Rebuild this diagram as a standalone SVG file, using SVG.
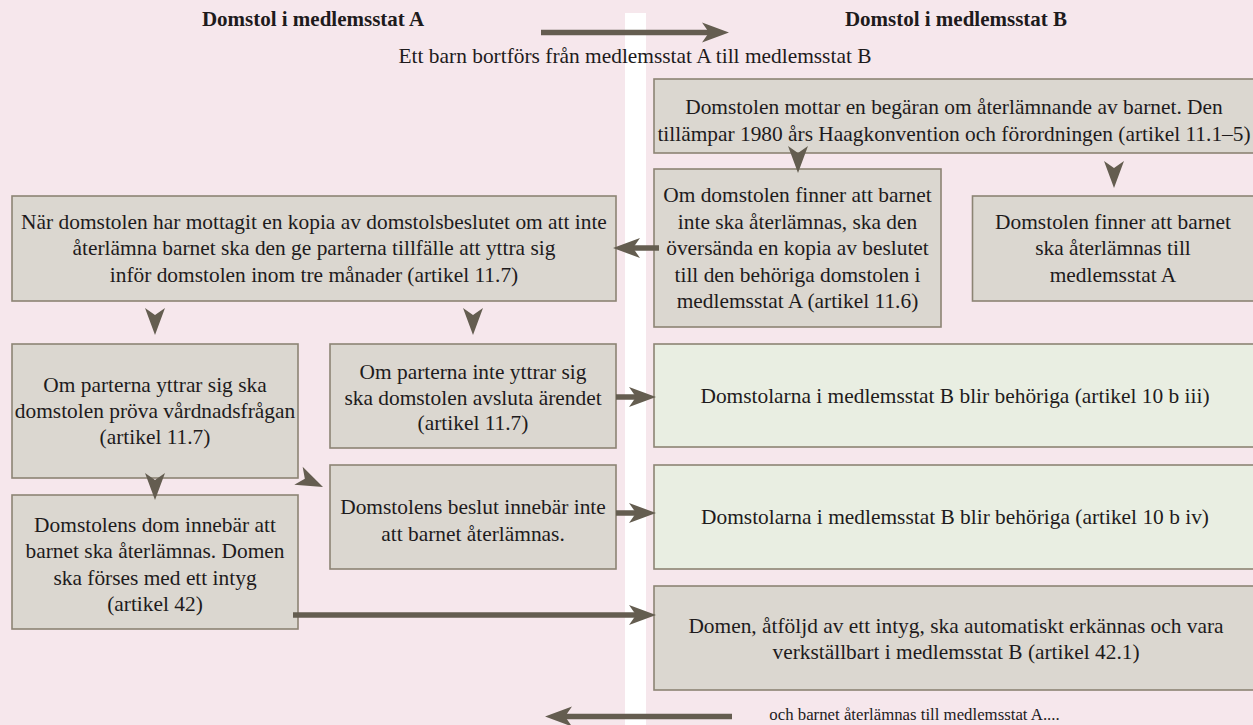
<svg xmlns="http://www.w3.org/2000/svg" xmlns:xlink="http://www.w3.org/1999/xlink" width="1253" height="725" viewBox="0 0 1253 725">
<style>
.bx{fill:#DBD7D0;stroke:#8C8474;stroke-width:1.6}
.gr{fill:#E9EEE2;stroke:#8C8474;stroke-width:1.6}
.t{font-family:"Liberation Serif","Times New Roman",serif;font-size:21.4px;fill:#1E1B1C;text-anchor:middle}
.s{font-family:"Liberation Serif","Times New Roman",serif;font-size:16.8px;fill:#1E1B1C;text-anchor:middle}
.h{font-family:"Liberation Serif","Times New Roman",serif;font-size:21px;font-weight:bold;fill:#1E1B1C;text-anchor:middle}
.ln{stroke:#645D50;stroke-width:5.5;fill:none;marker-end:url(#ah)}
.hd{fill:#645D50}
</style>
<defs>
<marker id="ah" markerUnits="userSpaceOnUse" markerWidth="28" markerHeight="21" refX="7" refY="10" orient="auto" overflow="visible">
<path d="M0,0 L27,10 L0,20 L7,10 Z" fill="#645D50"/>
</marker>
<path id="head" d="M0,0 L-27,-10 L-20,0 L-27,10 Z"/>
</defs>
<rect x="0" y="0" width="1253" height="725" fill="#F6E7EC"/>
<rect x="625" y="13" width="21" height="712" fill="#FFFFFF"/>

<g id="titles">
<text class="h" x="313" y="26">Domstol i medlemsstat A</text>
<text class="h" x="956" y="26">Domstol i medlemsstat B</text>
<text class="t" x="635" y="63">Ett barn bortförs från medlemsstat A till medlemsstat B</text>
<text class="s" x="914.5" y="720">och barnet återlämnas till medlemsstat A....</text>
</g>

<g id="n_b1">
<rect class="bx" x="654" y="79" width="603" height="74"/>
<text class="t" x="954" y="114">Domstolen mottar en begäran om återlämnande av barnet. Den</text>
<text class="t" x="954" y="141">tillämpar 1980 års Haagkonvention och förordningen (artikel 11.1–5)</text>
</g>

<g id="n_b2">
<rect class="bx" x="654" y="169" width="287" height="158"/>
<text class="t" x="797.5" y="202">Om domstolen finner att barnet</text>
<text class="t" x="797.5" y="228.5">inte ska återlämnas, ska den</text>
<text class="t" x="797.5" y="255">översända en kopia av beslutet</text>
<text class="t" x="797.5" y="281.5">till den behöriga domstolen i</text>
<text class="t" x="797.5" y="308">medlemsstat A (artikel 11.6)</text>
</g>

<g id="n_b3">
<rect class="bx" x="972.5" y="196" width="284" height="105"/>
<text class="t" x="1113" y="228.5">Domstolen finner att barnet</text>
<text class="t" x="1113" y="255">ska återlämnas till</text>
<text class="t" x="1113" y="281.5">medlemsstat A</text>
</g>

<g id="n_a1">
<rect class="bx" x="12" y="196" width="604" height="105"/>
<text class="t" x="314" y="228.5">När domstolen har mottagit en kopia av domstolsbeslutet om att inte</text>
<text class="t" x="314" y="255">återlämna barnet ska den ge parterna tillfälle att yttra sig</text>
<text class="t" x="314" y="281.5">inför domstolen inom tre månader (artikel 11.7)</text>
</g>

<g id="n_a2">
<rect class="bx" x="12" y="344" width="286" height="134"/>
<text class="t" x="155" y="392">Om parterna yttrar sig ska</text>
<text class="t" x="155" y="418">domstolen pröva vårdnadsfrågan</text>
<text class="t" x="155" y="444">(artikel 11.7)</text>
</g>

<g id="n_a3">
<rect class="bx" x="330" y="344" width="286" height="104"/>
<text class="t" x="473" y="379">Om parterna inte yttrar sig</text>
<text class="t" x="473" y="404.5">ska domstolen avsluta ärendet</text>
<text class="t" x="473" y="430">(artikel 11.7)</text>
</g>

<g id="n_a4">
<rect class="bx" x="330" y="465" width="286" height="104"/>
<text class="t" x="473" y="513.5">Domstolens beslut innebär inte</text>
<text class="t" x="473" y="540.5">att barnet återlämnas.</text>
</g>

<g id="n_a5">
<rect class="bx" x="12" y="495" width="286" height="134"/>
<text class="t" x="155" y="531.5">Domstolens dom innebär att</text>
<text class="t" x="155" y="558">barnet ska återlämnas. Domen</text>
<text class="t" x="155" y="584.5">ska förses med ett intyg</text>
<text class="t" x="155" y="611">(artikel 42)</text>
</g>

<g id="n_g1">
<rect class="gr" x="654" y="344" width="603" height="103"/>
<text class="t" x="955" y="403">Domstolarna i medlemsstat B blir behöriga (artikel 10 b iii)</text>
</g>

<g id="n_g2">
<rect class="gr" x="654" y="465" width="603" height="104"/>
<text class="t" x="955" y="524">Domstolarna i medlemsstat B blir behöriga (artikel 10 b iv)</text>
</g>

<g id="n_b4">
<rect class="bx" x="654" y="586" width="603" height="104"/>
<text class="t" x="956" y="632.5">Domen, åtföljd av ett intyg, ska automatiskt erkännas och vara</text>
<text class="t" x="956" y="659">verkställbart i medlemsstat B (artikel 42.1)</text>
</g>

<g id="connectors">
<line class="ln" x1="541" y1="32.5" x2="709" y2="32.5"/>
<line class="ln" x1="659" y1="248" x2="633" y2="248"/>
<line class="ln" x1="616" y1="397" x2="636" y2="397"/>
<line class="ln" x1="616" y1="513" x2="636" y2="513"/>
<line class="ln" x1="293" y1="615" x2="636" y2="615"/>
<line class="ln" x1="732" y1="716.5" x2="565" y2="716.5"/>
<use xlink:href="#head" class="hd" transform="translate(798,173) rotate(90)"/>
<use xlink:href="#head" class="hd" transform="translate(1114,188) rotate(90)"/>
<use xlink:href="#head" class="hd" transform="translate(155,335) rotate(90)"/>
<use xlink:href="#head" class="hd" transform="translate(473,335) rotate(90)"/>
<use xlink:href="#head" class="hd" transform="translate(155,500) rotate(90)"/>
<use xlink:href="#head" class="hd" transform="translate(323,487) rotate(24.7)"/>
</g>
</svg>
